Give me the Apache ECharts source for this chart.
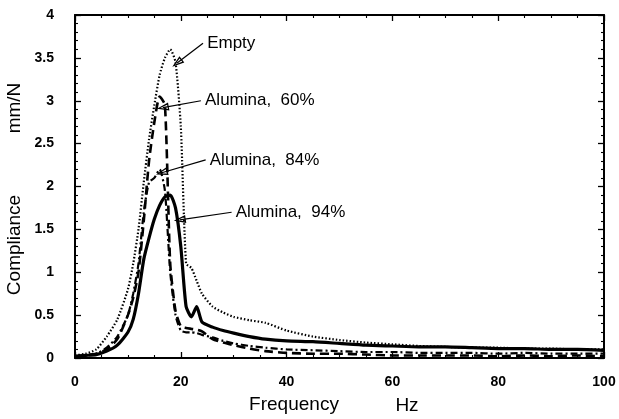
<!DOCTYPE html>
<html>
<head>
<meta charset="utf-8" />
<title>Compliance vs Frequency</title>
<script type="text/javascript" src="https://cdn.jsdelivr.net/npm/echarts@6/dist/echarts.min.js"></script>
<style type="text/css">
  html, body { margin: 0; padding: 0; background: #fff; }
  #main { width: 619px; height: 419px; }
</style>
</head>
<body>
<div id="main"></div>
<script type="text/javascript">
// frequency (Hz) sample points
var freq      = [0, 2, 4, 6, 8, 10, 11, 12, 13, 14, 15, 16, 17, 18, 19, 20, 21, 22, 23, 24, 26, 28, 30, 33, 36, 40, 45, 50, 55, 60, 65, 70, 75, 80, 85, 90, 95, 100];
// compliance, mm/N
var empty     = [0.03, 0.05, 0.1, 0.25, 0.45, 0.8, 1.1, 1.5, 2.05, 2.55, 2.95, 3.3, 3.5, 3.6, 3.45, 2.7, 1.1, 1.05, 0.9, 0.75, 0.6, 0.53, 0.48, 0.44, 0.41, 0.32, 0.25, 0.21, 0.18, 0.16, 0.14, 0.13, 0.12, 0.12, 0.11, 0.11, 0.1, 0.1];
var alumina60 = [0.02, 0.03, 0.05, 0.1, 0.22, 0.5, 0.7, 1.0, 1.6, 2.3, 2.75, 3.05, 2.95, 1.1, 0.55, 0.37, 0.35, 0.34, 0.33, 0.31, 0.22, 0.18, 0.15, 0.11, 0.08, 0.06, 0.05, 0.05, 0.04, 0.03, 0.03, 0.03, 0.03, 0.02, 0.03, 0.02, 0.03, 0.02];
var alumina84 = [0.02, 0.03, 0.05, 0.12, 0.25, 0.5, 0.75, 1.1, 1.7, 2.05, 2.1, 2.2, 1.95, 1.0, 0.5, 0.32, 0.3, 0.3, 0.29, 0.27, 0.24, 0.2, 0.17, 0.14, 0.12, 0.1, 0.09, 0.08, 0.07, 0.07, 0.06, 0.06, 0.06, 0.05, 0.06, 0.05, 0.05, 0.05];
var alumina94 = [0.02, 0.03, 0.04, 0.08, 0.15, 0.3, 0.45, 0.75, 1.15, 1.4, 1.62, 1.78, 1.88, 1.9, 1.75, 1.3, 0.6, 0.48, 0.6, 0.42, 0.36, 0.32, 0.29, 0.25, 0.22, 0.2, 0.19, 0.17, 0.15, 0.14, 0.13, 0.13, 0.12, 0.11, 0.11, 0.1, 0.1, 0.09];

var noteNames = ['Empty', 'Alumina,  60%', 'Alumina,  84%', 'Alumina,  94%'];
var noteText  = [[24.6, 3.67], [24.2, 3.0], [25.1, 2.31], [30.0, 1.70]];   // label anchor (Hz, mm/N)
var noteTip   = [[19.3, 3.44], [16.6, 2.92], [16.4, 2.16], [19.8, 1.61]];  // arrow tip (Hz, mm/N)

var FONT = 'Liberation Sans, Arial, Helvetica, sans-serif';

function pairs(ys) {
  return freq.map(function (f, i) { return [f, ys[i]]; });
}

// open triangle arrowhead (outer clockwise, inner counter-clockwise -> hole)
var openArrow = 'path://M5,0L10,14L0,14Z M5,4L2.3,12.6L7.7,12.6Z';

var arrows = noteText.map(function (p, i) {
  return [
    { coord: [p[0] - 0.4, p[1]], symbol: 'none' },
    { coord: noteTip[i], symbol: openArrow, symbolSize: [8, 12] }
  ];
});
var labels = noteText.map(function (p, i) {
  return { name: noteNames[i], coord: p };
});

var dom = document.getElementById('main');
var myChart = echarts.init(dom);

var axisCommon = {
  type: 'value',
  axisLine: { show: true, onZero: false, lineStyle: { color: '#000', width: 2 } },
  axisTick: { show: true, inside: true, length: 6, lineStyle: { color: '#000', width: 1.3 } },
  minorTick: { show: true, length: 3, lineStyle: { color: '#000', width: 1.1 } },
  splitLine: { show: false }
};

var option = {
  animation: false,
  backgroundColor: '#fff',
  grid: { left: 75, right: 15, top: 15, bottom: 61 },
  xAxis: [
    Object.assign({}, axisCommon, {
      position: 'bottom', min: 0, max: 100, interval: 20,
      minorTick: Object.assign({}, axisCommon.minorTick, { splitNumber: 4 }),
      axisLabel: { color: '#000', fontSize: 14, fontWeight: 'bold', fontFamily: FONT, margin: 17 }
    }),
    Object.assign({}, axisCommon, {
      position: 'top', min: 0, max: 100, interval: 20,
      minorTick: Object.assign({}, axisCommon.minorTick, { splitNumber: 4 }),
      axisLabel: { show: false }
    })
  ],
  yAxis: [
    Object.assign({}, axisCommon, {
      position: 'left', min: 0, max: 4, interval: 0.5,
      minorTick: Object.assign({}, axisCommon.minorTick, { splitNumber: 5 }),
      axisLabel: { color: '#000', fontSize: 14, fontWeight: 'bold', fontFamily: FONT, margin: 21 }
    }),
    Object.assign({}, axisCommon, {
      position: 'right', min: 0, max: 4, interval: 0.5,
      minorTick: Object.assign({}, axisCommon.minorTick, { splitNumber: 5 }),
      axisLabel: { show: false }
    })
  ],
  graphic: [
    { type: 'text', x: 15, y: 245, rotation: Math.PI / 2,
      style: { text: 'Compliance', fontSize: 19, fontFamily: FONT, fill: '#000', align: 'center', verticalAlign: 'middle' } },
    { type: 'text', x: 15, y: 108, rotation: Math.PI / 2,
      style: { text: 'mm/N', fontSize: 19, fontFamily: FONT, fill: '#000', align: 'center', verticalAlign: 'middle' } },
    { type: 'text', x: 294, y: 405,
      style: { text: 'Frequency', fontSize: 19, fontFamily: FONT, fill: '#000', align: 'center', verticalAlign: 'middle' } },
    { type: 'text', x: 407, y: 406,
      style: { text: 'Hz', fontSize: 19, fontFamily: FONT, fill: '#000', align: 'center', verticalAlign: 'middle' } }
  ],
  series: [
    {
      name: 'Empty', type: 'line', showSymbol: false, smooth: 0.2,
      data: pairs(empty),
      lineStyle: { color: '#000', width: 2.2, type: [1.5, 2] }
    },
    {
      name: 'Alumina, 60%', type: 'line', showSymbol: false, smooth: 0.2,
      data: pairs(alumina60),
      lineStyle: { color: '#000', width: 2.6, type: [9, 5] }
    },
    {
      name: 'Alumina, 84%', type: 'line', showSymbol: false, smooth: 0.2,
      data: pairs(alumina84),
      lineStyle: { color: '#000', width: 2.2, type: [7, 3, 2, 3] }
    },
    {
      name: 'Alumina, 94%', type: 'line', showSymbol: false, smooth: 0.2,
      data: pairs(alumina94),
      lineStyle: { color: '#000', width: 3.2 },
      markLine: {
        silent: true,
        animation: false,
        label: { show: false },
        lineStyle: { color: '#000', width: 1.2, type: 'solid' },
        itemStyle: { color: '#000' },
        data: arrows
      },
      markPoint: {
        silent: true,
        symbol: 'circle',
        symbolSize: 0,
        itemStyle: { color: 'rgba(0,0,0,0)' },
        label: { show: true, position: 'right', distance: 2, formatter: '{b}', color: '#000', fontSize: 17, fontFamily: FONT },
        data: labels
      }
    }
  ]
};

if (option && typeof option === 'object') {
  myChart.setOption(option);
}
</script>
</body>
</html>
